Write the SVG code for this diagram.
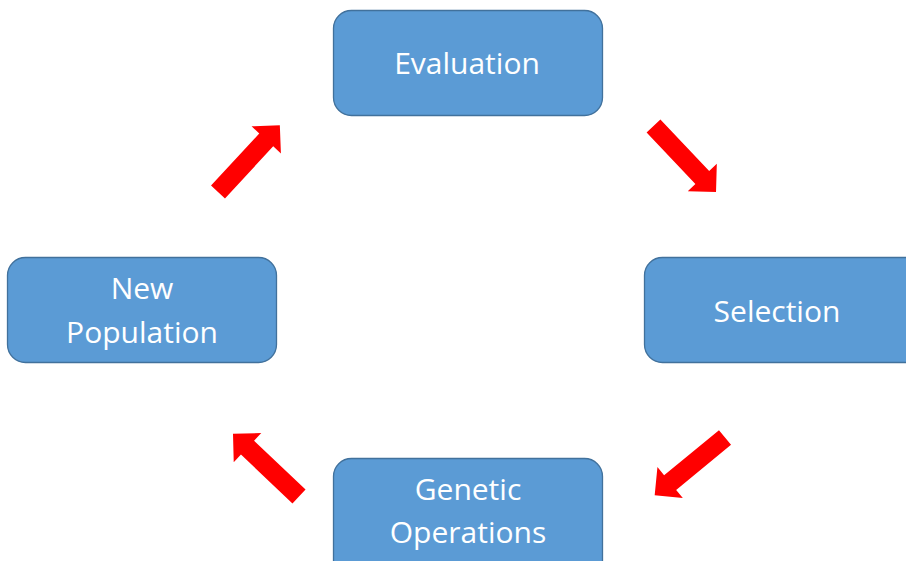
<svg xmlns="http://www.w3.org/2000/svg" width="906" height="561" viewBox="0 0 906 561">
<defs>
<style>
.box{fill:#5B9BD5;stroke:#41719C;stroke-width:1.3}
.lbl{fill:#FFFFFF;font-family:"Open Sans","Liberation Sans",sans-serif;font-size:30px;text-anchor:middle}
.arr{fill:#FF0000}
</style>
<path id="blk" d="M0,-9.5 L71,-9.5 L71,-20 L91,0 L71,20 L71,9.5 L0,9.5 Z"/>
</defs>
<rect x="0" y="0" width="906" height="561" fill="#FFFFFF"/>
<g id="evaluation">
<rect class="box" x="333.5" y="10.5" width="269" height="105" rx="18"/>
<text class="lbl" x="467" y="74">Evaluation</text>
</g>
<g id="selection">
<rect class="box" x="644.5" y="257.5" width="280" height="105" rx="18"/>
<text class="lbl" x="777" y="322">Selection</text>
</g>
<g id="genetic-operations">
<rect class="box" x="333.5" y="458.5" width="269" height="120" rx="18"/>
<text class="lbl" x="468" y="500">Genetic</text>
<text class="lbl" x="468" y="543">Operations</text>
</g>
<g id="new-population">
<rect class="box" x="7.5" y="257.5" width="269" height="105" rx="18"/>
<text class="lbl" x="142" y="299">New</text>
<text class="lbl" x="142" y="343">Population</text>
</g>
<g id="connectors">
<use href="#blk" class="arr" transform="translate(218,192) rotate(-47.2)"/>
<use href="#blk" class="arr" transform="translate(653.5,126) rotate(46.6)"/>
<use href="#blk" class="arr" transform="translate(725,437.5) rotate(140.6)"/>
<use href="#blk" class="arr" transform="translate(299,496.5) rotate(223.5)"/>
</g>
</svg>
